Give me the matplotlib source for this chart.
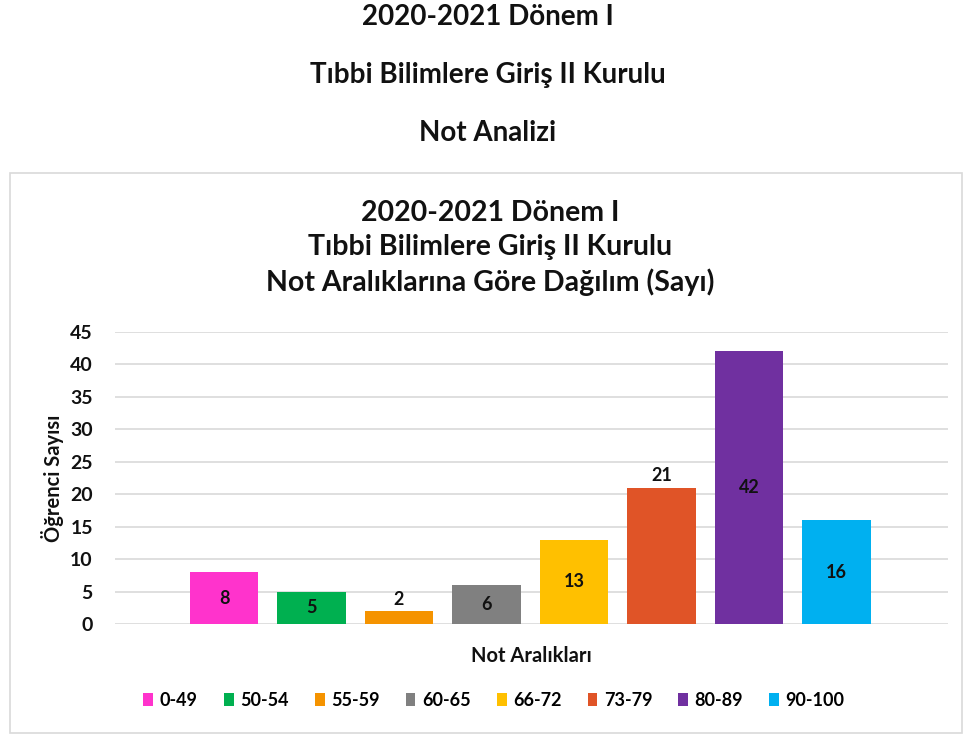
import matplotlib
matplotlib.use("Agg")
import matplotlib.pyplot as plt
from matplotlib.patches import Rectangle, Patch

plt.rcParams['font.family'] = ['Lato', 'DejaVu Sans']

# Data
categories = ["0-49", "50-54", "55-59", "60-65", "66-72", "73-79", "80-89", "90-100"]
counts = [8, 5, 2, 6, 13, 21, 42, 16]
label_outside = [False, False, True, False, False, True, False, False]
colors = ["#FF33CC", "#00B050", "#F59300", "#808080", "#FFC000", "#E05427", "#7030A0", "#00B0F0"]
y_ticks = [0, 5, 10, 15, 20, 25, 30, 35, 40, 45]

outer_titles = ["2020-2021 Dönem I", "Tıbbi Bilimlere Giriş II Kurulu", "Not Analizi"]
chart_title = "2020-2021 Dönem I\nTıbbi Bilimlere Giriş II Kurulu\nNot Aralıklarına Göre Dağılım (Sayı)"

W, H = 965, 736
TXT = "#111111"
fig = plt.figure(figsize=(W / 100, H / 100), dpi=100)
fig.patch.set_facecolor("white")

# Heading above the chart frame
for txt, ypx in zip(outer_titles, [17, 75, 133]):
    fig.text(488 / W, 1 - ypx / H, txt, ha="center", va="center",
             fontsize=20, fontweight="bold", color=TXT)

# Chart frame
fig.patches.append(Rectangle((10 / W, 1 - 733 / H), 952 / W, 560 / H,
                             transform=fig.transFigure, fill=False,
                             edgecolor="#D9D9D9", linewidth=1.2))

fig.text(490 / W, 1 - 248 / H, chart_title, ha="center", va="center",
         fontsize=20.5, fontweight="bold", color=TXT, linespacing=1.36)

ax = fig.add_axes([115 / W, 1 - 624 / H, (948 - 115) / W, (624 - 332) / H])
x = list(range(len(categories)))
bars = ax.bar(x, counts, width=0.78, color=colors, zorder=3)

for xi, v, out in zip(x, counts, label_outside):
    if out:
        ax.text(xi, v + 0.5, str(v), ha="center", va="bottom",
                fontsize=13, fontweight="bold", color=TXT, zorder=4)
    else:
        ax.text(xi, v / 2, str(v), ha="center", va="center",
                fontsize=13, fontweight="bold", color=TXT, zorder=4)

ax.set_xlim(-1.246, 8.274)
ax.set_ylim(0, 45)
ax.set_yticks(y_ticks)
ax.set_xticks([])
ax.yaxis.grid(True, color="#D9D9D9", linewidth=1.2, zorder=0)
for s in ax.spines.values():
    s.set_visible(False)
ax.tick_params(axis="y", length=0, pad=16, labelsize=14)
for lab in ax.get_yticklabels():
    lab.set_fontweight("bold")
    lab.set_color(TXT)

ax.set_ylabel("Öğrenci Sayısı", fontsize=14.5, fontweight="bold", color=TXT, labelpad=4)
ax.set_xlabel("Not Aralıkları", fontsize=14.5, fontweight="bold", color=TXT, labelpad=16)

handles = [Patch(facecolor=c, edgecolor="none") for c in colors]
fig.legend(handles, categories, loc="center", bbox_to_anchor=(494 / W, 1 - 700 / H),
           ncol=len(categories), frameon=False, handlelength=0.55, handleheight=0.75,
           handletextpad=0.35, columnspacing=1.45,
           prop={"weight": "bold", "size": 13})

fig.savefig("out.png", dpi=100, facecolor="white")
